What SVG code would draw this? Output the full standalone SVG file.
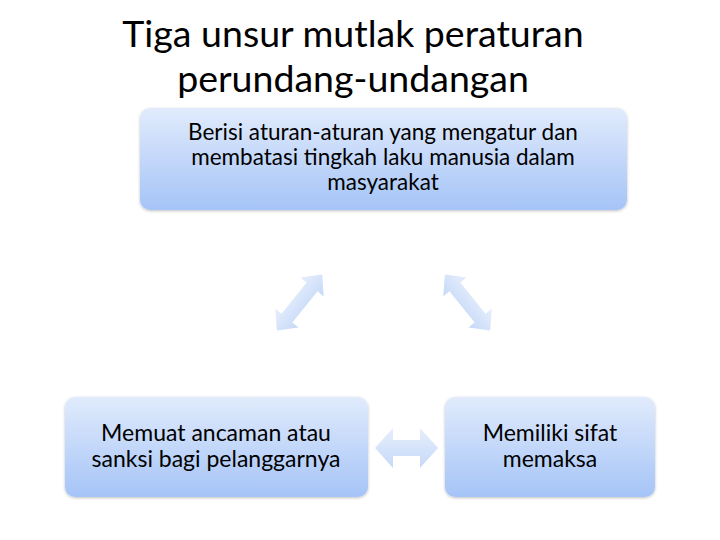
<svg xmlns="http://www.w3.org/2000/svg" width="720" height="540" viewBox="0 0 720 540">
<defs>
<linearGradient id="boxg" x1="0" y1="0" x2="0" y2="1">
<stop offset="0" stop-color="#e1ebfc"/>
<stop offset="1" stop-color="#a5c4f7"/>
</linearGradient>
<linearGradient id="arrg" x1="0" y1="0" x2="0" y2="1">
<stop offset="0" stop-color="#e6eefc"/>
<stop offset="1" stop-color="#c6d9f8"/>
</linearGradient>
<filter id="sh" x="-10%" y="-10%" width="120%" height="130%">
<feGaussianBlur in="SourceAlpha" stdDeviation="1.5"/>
<feOffset dy="1" result="b"/>
<feComponentTransfer><feFuncA type="linear" slope="0.25"/></feComponentTransfer>
<feMerge><feMergeNode/><feMergeNode in="SourceGraphic"/></feMerge>
</filter>
</defs>
<style>
.box{fill:url(#boxg);filter:url(#sh)}
.arr{fill:url(#arrg)}
text{font-family:Lato,"Open Sans","Liberation Sans",sans-serif;fill:#000;text-anchor:middle}
.title{font-size:37.5px}
.lbl{font-size:22.5px}
.lbl2{font-size:23px}
</style>
<rect width="720" height="540" fill="#fff"/>
<g id="title">
<text class="title" x="353" y="47">Tiga unsur mutlak peraturan</text>
<text class="title" x="353" y="92">perundang-undangan</text>
</g>
<g id="node-top">
<rect class="box" x="140" y="108" width="487" height="102" rx="10"/>
<text class="lbl" x="383" y="140">Berisi aturan-aturan yang mengatur dan</text>
<text class="lbl" x="383" y="165">membatasi tingkah laku manusia dalam</text>
<text class="lbl" x="383" y="190">masyarakat</text>
</g>
<g id="node-left">
<rect class="box" x="65" y="397" width="303" height="100" rx="10"/>
<text class="lbl2" x="216" y="441">Memuat ancaman atau</text>
<text class="lbl2" x="216" y="467">sanksi bagi pelanggarnya</text>
</g>
<g id="node-right">
<rect class="box" x="445" y="397" width="210" height="100" rx="10"/>
<text class="lbl2" x="550" y="441">Memiliki sifat</text>
<text class="lbl2" x="550" y="467">memaksa</text>
</g>
<g id="connectors">
<polygon class="arr" transform="translate(299.5 302.5) rotate(-51)" points="-36,0 -20,-15 -20,-7 20,-7 20,-15 36,0 20,15 20,7 -20,7 -20,15"/>
<polygon class="arr" transform="translate(467.5 302.5) rotate(51)" points="-36,0 -20,-15 -20,-7 20,-7 20,-15 36,0 20,15 20,7 -20,7 -20,15"/>
<polygon class="arr" transform="translate(406.5 448)" points="-31.5,0 -13.5,-20 -13.5,-8 13.5,-8 13.5,-20 31.5,0 13.5,20 13.5,8 -13.5,8 -13.5,20"/>
</g>
</svg>
